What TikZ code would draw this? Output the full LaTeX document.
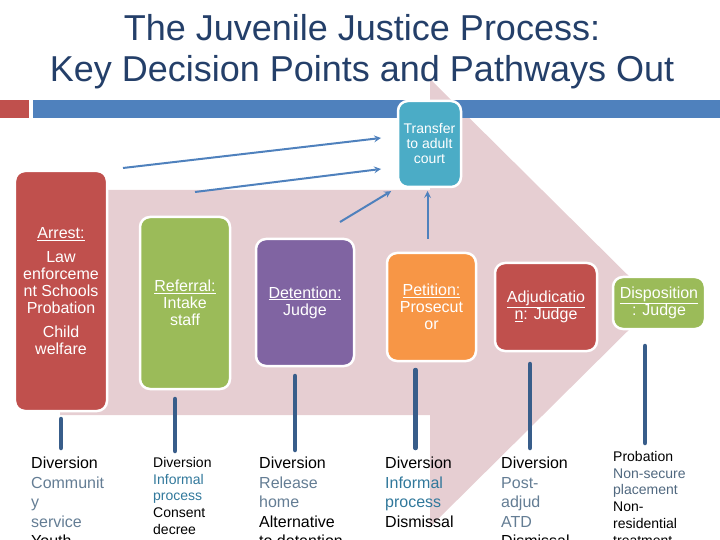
\documentclass[tikz,border=0pt]{standalone}
\usepackage{fontspec}
\setmainfont{Liberation Sans}
\definecolor{titleblue}{RGB}{36,63,105}
\definecolor{barblue}{RGB}{79,129,189}
\definecolor{barred}{RGB}{192,80,77}
\definecolor{arrowpink}{RGB}{230,206,210}
\definecolor{boxred}{RGB}{192,80,77}
\definecolor{boxgreen}{RGB}{155,187,89}
\definecolor{boxpurple}{RGB}{128,100,162}
\definecolor{boxorange}{RGB}{247,150,70}
\definecolor{boxteal}{RGB}{75,172,198}
\definecolor{linkblue}{RGB}{79,129,189}
\definecolor{stemblue}{RGB}{56,93,138}
\definecolor{txtgray}{RGB}{100,125,148}
\definecolor{txtteal}{RGB}{49,120,155}
\definecolor{txtslate}{RGB}{80,104,127}
\newcommand{\gtxt}[1]{\textcolor{txtgray}{#1}}
\newcommand{\ttxt}[1]{\textcolor{txtteal}{#1}}
\newcommand{\stxt}[1]{\textcolor{txtslate}{#1}}
\tikzset{
  stagebox/.style={rounded corners=10bp,draw=white,line width=2.5bp,text=white,align=center,inner sep=2bp,outer sep=0pt,font=\fontsize{16bp}{17bp}\selectfont},
  outtext/.style={anchor=north west,inner sep=0pt,align=left},
  bigout/.style={outtext,font=\fontsize{16bp}{19.5bp}\selectfont},
  smallout/.style={outtext,font=\fontsize{14bp}{16.8bp}\selectfont},
  link/.style={->,draw=linkblue,line width=2bp},
  stem/.style={draw=stemblue,line width=4.5bp,line cap=round}
}
\begin{document}
\begin{tikzpicture}[>=stealth,line join=round,x=1bp,y=-1bp]
\useasboundingbox (0,0) rectangle (720,540);
\clip (0,0) rectangle (720,540);
\fill[arrowpink] (60,190)--(430,190)--(430,79)--(656,303)--(430,527)--(430,415)--(60,415)--cycle;
\fill[barred] (0,100) rectangle (29,118);
\fill[barblue] (33,100) rectangle (720,118);
\node[font=\fontsize{36bp}{41bp}\selectfont,text=titleblue,align=center] (title) at (362,52) {The Juvenile Justice Process:\\Key Decision Points and Pathways Out};

\node[stagebox,fill=boxteal,minimum width=63bp,minimum height=86bp,font=\fontsize{14bp}{15bp}\selectfont] (transfer) at (429.5,144) {Transfer\\to adult\\court};
\node[stagebox,fill=boxred,minimum width=92bp,minimum height=240bp] (arrest) at (61,291) {\underline{Arrest:}\\[7bp]Law\\enforceme\\nt Schools\\Probation\\[7bp]Child\\welfare};
\node[stagebox,fill=boxgreen,minimum width=90bp,minimum height=172bp] (referral) at (185,303) {\underline{Referral:}\\Intake\\staff};
\node[stagebox,fill=boxpurple,minimum width=98bp,minimum height=127bp] (detention) at (305,302.5) {\underline{Detention:}\\Judge};
\node[stagebox,fill=boxorange,minimum width=89bp,minimum height=108bp] (petition) at (431.5,307) {\underline{Petition:}\\Prosecut\\or};
\node[stagebox,fill=boxred,minimum width=102bp,minimum height=88bp] (adjudication) at (546,307) {\underline{Adjudicatio}\\\underline{n}: Judge};
\node[stagebox,fill=boxgreen,minimum width=92bp,minimum height=52bp] (disposition) at (659,303) {\underline{Disposition}\\: Judge};

\coordinate (src1) at (123,168); \coordinate (dst1) at (381,138);
\coordinate (src2) at (195,192); \coordinate (dst2) at (381,169);
\coordinate (src3) at (340,222);
\draw[link] (src1)--(dst1);
\draw[link] (src2)--(dst2);
\draw[link,shorten >=8bp] (src3)--(transfer.south west);
\draw[link,shorten <=14bp,shorten >=4bp] ([xshift=-4bp]petition.north)--([xshift=-4bp]petition.north |- transfer.south);

\node[bigout] (out1) at (31,457) {Diversion\\\gtxt{Communit}\\\gtxt{y}\\\gtxt{service}\\Youth};
\node[smallout] (out2) at (153,457) {Diversion\\\ttxt{Informal}\\\ttxt{process}\\Consent\\decree};
\node[bigout] (out3) at (259,457) {Diversion\\\gtxt{Release}\\\gtxt{home}\\Alternative\\to detention};
\node[bigout] (out4) at (385,457) {Diversion\\\ttxt{Informal}\\\ttxt{process}\\Dismissal};
\node[bigout] (out5) at (501,457) {Diversion\\\gtxt{Post-}\\\gtxt{adjud}\\\gtxt{ATD}\\Dismissal};
\node[smallout] (out6) at (613,451) {Probation\\\stxt{Non-secure}\\\stxt{placement}\\Non-\\residential\\treatment};

\draw[stem,shorten <=8bp,shorten >=9bp] (arrest.south)--(arrest.south |- out1.north);
\draw[stem,shorten <=10bp,shorten >=6bp] ([xshift=-10bp]referral.south)--([xshift=-10bp]referral.south |- out2.north);
\draw[stem,shorten <=10bp,shorten >=7bp] ([xshift=-10bp]detention.south)--([xshift=-10bp]detention.south |- out3.north);
\draw[stem,shorten <=9bp,shorten >=9bp] ([xshift=-16bp]petition.south)--([xshift=-16bp]petition.south |- out4.north);
\draw[stem,shorten <=13bp,shorten >=9bp] ([xshift=-16bp]adjudication.south)--([xshift=-16bp]adjudication.south |- out5.north);
\draw[stem,shorten <=17bp,shorten >=8bp] ([xshift=-14bp]disposition.south)--([xshift=-14bp]disposition.south |- out6.north);
\end{tikzpicture}
\end{document}
